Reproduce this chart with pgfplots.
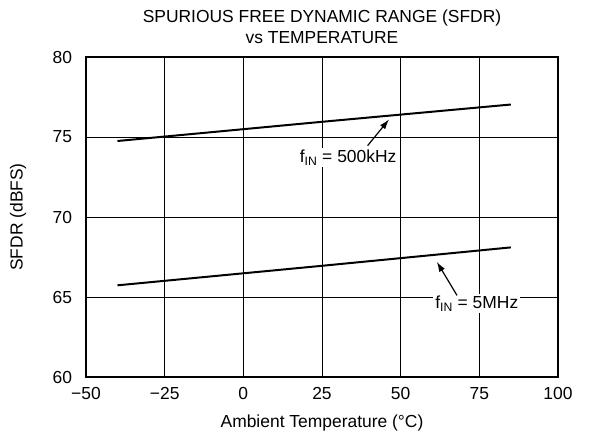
\documentclass[border=0pt]{standalone}
\usepackage{pgfplots}
\pgfplotsset{compat=1.18}
\usepackage{fontspec}
\setmainfont{Liberation Sans}
\usetikzlibrary{arrows.meta}
\begin{document}
\begin{tikzpicture}[x=1bp,y=1bp]
\fontsize{17.5}{20}\selectfont
\begin{axis}[
  at={(0,0)}, anchor=south west,
  scale only axis, width=472bp, height=320bp,
  xmin=-50, xmax=100, ymin=60, ymax=80,
  xtick={-50,-25,0,25,50,75,100},
  xticklabels={−50,−25,0,25,50,75,100},
  ytick={60,65,70,75,80},
  yticklabels={60,65,70,75,80},
  major tick length=0pt,
  grid=major,
  major grid style={black, line width=0.8pt},
  axis line style={black, line width=2pt},
  tick label style={font=\fontsize{17.5}{20}\selectfont},
  xticklabel style={yshift=-4bp},
  yticklabel style={xshift=-8bp},
  xlabel={Ambient Temperature (°C)},
  ylabel={SFDR (dBFS)},
  label style={font=\fontsize{17.5}{20}\selectfont},
  xlabel style={yshift=-4bp},
  ylabel style={at={(axis description cs:-0.144,0.5)}, anchor=center},
  title={SPURIOUS FREE DYNAMIC RANGE (SFDR)\\vs TEMPERATURE},
  title style={align=center, font=\fontsize{17.5}{21}\selectfont, yshift=1bp},
]
\addplot[black, line width=2pt] coordinates {(-40,74.75) (25,75.95) (85,77.03)};
\addplot[black, line width=2pt] coordinates {(-40,65.73) (25,66.95) (85,68.1)};
\node[fill=white, inner sep=2bp, font=\fontsize{17.5}{20}\selectfont] at (axis cs:33.3,73.7) {f\textsubscript{IN} = 500kHz};
\draw[line width=1.2pt, -{Latex[length=10bp,width=6.5bp]}] (axis cs:39.5,74.46) -- (axis cs:46.3,76.1);
\node[fill=white, inner sep=2bp, font=\fontsize{17.5}{20}\selectfont] at (axis cs:74.2,64.6) {f\textsubscript{IN} = 5MHz};
\draw[line width=1.2pt, -{Latex[length=10bp,width=6.5bp]}] (axis cs:67.9,65.1) -- (axis cs:61.5,67.2);
\end{axis}
\path (-86bp,-64bp) rectangle (509bp,377bp);
\end{tikzpicture}
\end{document}
